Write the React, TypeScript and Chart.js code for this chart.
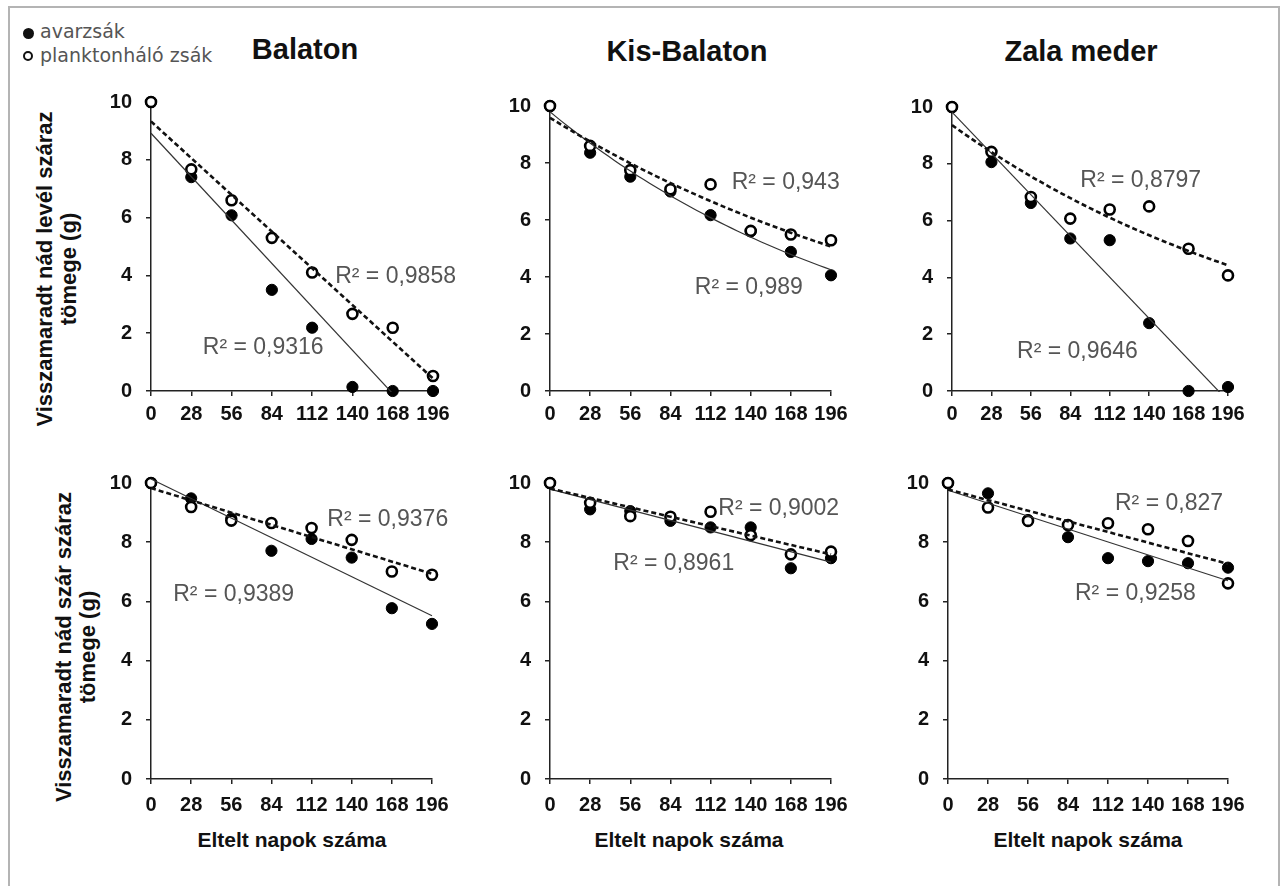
import { useEffect, useRef } from "react";
import { Chart, registerables } from "chart.js";

Chart.register(...registerables);

// Sampling days of the decomposition experiment
const DAYS = [0, 28, 56, 84, 112, 140, 168, 196];
const X_STEP = 28;
const Y_MIN = 0;
const Y_MAX = 10;
const Y_STEP = 2;

// Remaining dry mass of reed leaves (g)
const LEAF_BALATON_LITTER = [10, 7.4, 6.08, 3.5, 2.19, 0.14, 0, 0];
const LEAF_BALATON_PLANKTON = [10, 7.67, 6.6, 5.3, 4.1, 2.67, 2.19, 0.52];
const LEAF_KISBALATON_LITTER = [10, 8.36, 7.52, 7.0, 6.17, 5.6, 4.88, 4.06];
const LEAF_KISBALATON_PLANKTON = [10, 8.6, 7.75, 7.08, 7.25, 5.62, 5.49, 5.29];
const LEAF_ZALA_LITTER = [10, 8.06, 6.62, 5.37, 5.31, 2.39, 0, 0.14];
const LEAF_ZALA_PLANKTON = [10, 8.42, 6.83, 6.07, 6.39, 6.5, 5.01, 4.07];

// Remaining dry mass of reed stems (g)
const STEM_BALATON_LITTER = [10, 9.48, 8.8, 7.71, 8.11, 7.48, 5.77, 5.24];
const STEM_BALATON_PLANKTON = [10, 9.19, 8.73, 8.65, 8.48, 8.08, 7.01, 6.9];
const STEM_KISBALATON_LITTER = [10, 9.11, 9.05, 8.72, 8.5, 8.5, 7.12, 7.46];
const STEM_KISBALATON_PLANKTON = [10, 9.33, 8.88, 8.86, 9.03, 8.24, 7.59, 7.68];
const STEM_ZALA_LITTER = [10, 9.65, 8.75, 8.17, 7.46, 7.36, 7.29, 7.14];
const STEM_ZALA_PLANKTON = [10, 9.17, 8.72, 8.58, 8.64, 8.44, 8.04, 6.61];

// Coefficients of determination of the trend lines
const R2_LITTER = ["0,9316", "0,989", "0,9646", "0,9389", "0,8961", "0,9258"];
const R2_PLANKTON = ["0,9858", "0,943", "0,8797", "0,9376", "0,9002", "0,827"];

// Trend line type per panel: [litter bag, plankton-net bag]
const TREND_KINDS: [string, string][] = [
  ["linear", "linear"],
  ["exp", "exp"],
  ["linear", "exp"],
  ["linear", "linear"],
  ["linear", "linear"],
  ["linear", "linear"],
];

const SITE_TITLES = ["Balaton", "Kis-Balaton", "Zala meder"];
const Y_TITLES = [
  ["Visszamaradt nád levél száraz", "tömege (g)"],
  ["Visszamaradt nád szár száraz", "tömege (g)"],
];
const X_TITLE = "Eltelt napok száma";
const LEGEND_LABELS = ["avarzsák", "planktonháló zsák"];

const ARIAL = "'Liberation Sans', Arial, Helvetica, sans-serif";

// Layout of each panel: plot-area edges on the page, and where the R² texts sit (in data units)
const PANELS = [
  { litter: LEAF_BALATON_LITTER, plankton: LEAF_BALATON_PLANKTON, box: { L: 151, R: 433, T: 102, B: 391 }, tickPad: 6, litterPos: [36, 1.51], planktonPos: [128, 3.97] },
  { litter: LEAF_KISBALATON_LITTER, plankton: LEAF_KISBALATON_PLANKTON, box: { L: 550, R: 831, T: 106, B: 391 }, tickPad: 6, litterPos: [101, 3.64], planktonPos: [126.7, 7.3] },
  { litter: LEAF_ZALA_LITTER, plankton: LEAF_ZALA_PLANKTON, box: { L: 952, R: 1228, T: 107, B: 391 }, tickPad: 6, litterPos: [46.2, 1.37], planktonPos: [91.1, 7.42] },
  { litter: STEM_BALATON_LITTER, plankton: STEM_BALATON_PLANKTON, box: { L: 151, R: 432, T: 483, B: 779 }, tickPad: 9, litterPos: [15.5, 6.22], planktonPos: [123, 8.76] },
  { litter: STEM_KISBALATON_LITTER, plankton: STEM_KISBALATON_PLANKTON, box: { L: 550, R: 831, T: 483, B: 779 }, tickPad: 9, litterPos: [44.2, 7.29], planktonPos: [117.4, 9.15] },
  { litter: STEM_ZALA_LITTER, plankton: STEM_ZALA_PLANKTON, box: { L: 948, R: 1228, T: 483, B: 779 }, tickPad: 9, litterPos: [88.9, 6.27], planktonPos: [116.9, 9.31] },
];

const Y_AXIS_W = 70;
const X_AXIS_H = 48;
const PAD_T = 30;
const PAD_R = 44;

function mean(v: number[]) {
  return v.reduce((s, x) => s + x, 0) / v.length;
}

// Ordinary least squares y = a + b x
function fitLinear(xs: number[], ys: number[]) {
  const mx = mean(xs);
  const my = mean(ys);
  let sxy = 0;
  let sxx = 0;
  xs.forEach((x, i) => {
    sxy += (x - mx) * (ys[i] - my);
    sxx += (x - mx) * (x - mx);
  });
  const b = sxy / sxx;
  return { a: my - b * mx, b };
}

// Trend line points: linear, or exponential fitted on ln(y)
function trendPoints(kind: string, xs: number[], ys: number[]) {
  const x0 = xs[0];
  const x1 = xs[xs.length - 1];
  if (kind === "linear") {
    const { a, b } = fitLinear(xs, ys);
    return [
      { x: x0, y: a + b * x0 },
      { x: x1, y: a + b * x1 },
    ];
  }
  const { a, b } = fitLinear(xs, ys.map((v) => Math.log(v)));
  const pts: { x: number; y: number }[] = [];
  const n = 49;
  for (let i = 0; i < n; i++) {
    const x = x0 + ((x1 - x0) * i) / (n - 1);
    pts.push({ x, y: Math.exp(a + b * x) });
  }
  return pts;
}

const r2Plugin = {
  id: "r2labels",
  afterDatasetsDraw(chart: any, _args: any, opts: any) {
    const { ctx } = chart;
    const xs = chart.scales.x;
    const ys = chart.scales.y;
    ctx.save();
    ctx.font = `23px ${ARIAL}`;
    ctx.fillStyle = "#555";
    ctx.textAlign = "left";
    ctx.textBaseline = "middle";
    for (const l of opts.labels || []) {
      ctx.fillText(l.text, xs.getPixelForValue(l.x), ys.getPixelForValue(l.y));
    }
    ctx.restore();
  },
};

function Panel({ index }: { index: number }) {
  const ref = useRef<HTMLCanvasElement>(null);
  const p = PANELS[index];
  const { L, R, T, B } = p.box;
  const width = R - L + Y_AXIS_W + PAD_R;
  const height = B - T + PAD_T + X_AXIS_H;

  useEffect(() => {
    if (!ref.current) return;
    const [litterKind, planktonKind] = TREND_KINDS[index];
    const litterPts = DAYS.map((d, i) => ({ x: d, y: p.litter[i] }));
    const planktonPts = DAYS.map((d, i) => ({ x: d, y: p.plankton[i] }));
    const trendClip = { left: 2, right: 2, top: 8, bottom: 1 };
    const chart = new Chart(ref.current, {
      type: "scatter",
      data: {
        datasets: [
          {
            label: "planktonháló trend",
            data: trendPoints(planktonKind, DAYS, p.plankton),
            showLine: true,
            borderColor: "#111",
            borderWidth: 2.6,
            borderDash: [5, 3],
            pointRadius: 0,
            tension: 0,
            order: 0,
            clip: trendClip,
          },
          {
            label: "avar trend",
            data: trendPoints(litterKind, DAYS, p.litter),
            showLine: true,
            borderColor: "#333",
            borderWidth: 1.2,
            pointRadius: 0,
            tension: 0,
            order: 0,
            clip: trendClip,
          },
          {
            label: LEGEND_LABELS[1],
            data: planktonPts,
            pointRadius: 5,
            pointBackgroundColor: "#fff",
            pointBorderColor: "#000",
            pointBorderWidth: 2.6,
            order: 1,
            clip: false,
          },
          {
            label: LEGEND_LABELS[0],
            data: litterPts,
            pointRadius: 5.6,
            pointBackgroundColor: "#000",
            pointBorderColor: "#000",
            pointBorderWidth: 1,
            order: 2,
            clip: false,
          },
        ] as any,
      },
      options: {
        animation: false,
        responsive: false,
        events: [],
        layout: { padding: { left: 0, top: PAD_T, right: PAD_R, bottom: 0 } },
        plugins: {
          legend: { display: false },
          tooltip: { enabled: false },
          r2labels: {
            labels: [
              { text: `R² = ${R2_PLANKTON[index]}`, x: p.planktonPos[0], y: p.planktonPos[1] },
              { text: `R² = ${R2_LITTER[index]}`, x: p.litterPos[0], y: p.litterPos[1] },
            ],
          },
        } as any,
        scales: {
          x: {
            type: "linear",
            min: DAYS[0],
            max: DAYS[DAYS.length - 1],
            afterFit: (s: any) => {
              s.height = X_AXIS_H;
            },
            ticks: {
              stepSize: X_STEP,
              color: "#111",
              padding: p.tickPad,
              maxRotation: 0,
              autoSkip: false,
              font: { family: ARIAL, size: 20, weight: "bold" },
            },
            grid: { drawOnChartArea: false, drawTicks: true, tickLength: 5, color: "#222", lineWidth: 1.5 },
            border: { display: true, color: "#222", width: 1.5 },
          },
          y: {
            type: "linear",
            min: Y_MIN,
            max: Y_MAX,
            afterFit: (s: any) => {
              s.width = Y_AXIS_W;
            },
            ticks: {
              stepSize: Y_STEP,
              color: "#111",
              padding: 14,
              font: { family: ARIAL, size: 20, weight: "bold" },
            },
            grid: { drawOnChartArea: false, drawTicks: true, tickLength: 5, color: "#222", lineWidth: 1.5 },
            border: { display: true, color: "#222", width: 1.5 },
          },
        },
      } as any,
      plugins: [r2Plugin],
    });
    return () => chart.destroy();
  }, [index]);

  return (
    <canvas
      ref={ref}
      width={width}
      height={height}
      style={{ position: "absolute", left: L - Y_AXIS_W, top: T - PAD_T, width, height }}
    />
  );
}

const TITLE_POS = [
  { cx: 305, top: 33 },
  { cx: 687, top: 35 },
  { cx: 1081, top: 35 },
];
const X_TITLE_CX = [292, 689, 1088];
const Y_TITLE_POS = [
  { cx: 57, cy: 269 },
  { cx: 76, cy: 647 },
];

export default function App() {
  return (
    <div
      style={{
        position: "fixed",
        left: 0,
        top: 0,
        width: 1281,
        height: 886,
        background: "#fff",
        overflow: "hidden",
        fontFamily: ARIAL,
      }}
    >
      <div
        style={{
          position: "absolute",
          left: 8,
          top: 6,
          width: 1272,
          height: 920,
          border: "2px solid #b4b4b4",
          boxSizing: "border-box",
        }}
      />

      {/* legend */}
      <div style={{ position: "absolute", left: 22.5, top: 27.5, width: 11, height: 11, borderRadius: "50%", background: "#111" }} />
      <div style={{ position: "absolute", left: 40, top: 20, font: "19px 'DejaVu Sans', sans-serif", lineHeight: "22px", color: "#555", whiteSpace: "nowrap" }}>
        {LEGEND_LABELS[0]}
      </div>
      <div style={{ position: "absolute", left: 23, top: 51, width: 10, height: 10, borderRadius: "50%", border: "2px solid #111", boxSizing: "border-box", background: "#fff" }} />
      <div style={{ position: "absolute", left: 40, top: 44, font: "19px 'DejaVu Sans', sans-serif", lineHeight: "22px", color: "#555", whiteSpace: "nowrap" }}>
        {LEGEND_LABELS[1]}
      </div>

      {/* site titles */}
      {SITE_TITLES.map((t, i) => (
        <div
          key={t}
          style={{
            position: "absolute",
            left: TITLE_POS[i].cx - 200,
            top: TITLE_POS[i].top,
            width: 400,
            textAlign: "center",
            font: `bold 29px ${ARIAL}`,
            lineHeight: "33px",
            color: "#111",
          }}
        >
          {t}
        </div>
      ))}

      {/* y axis titles */}
      {Y_TITLES.map((lines, i) => (
        <div
          key={i}
          style={{
            position: "absolute",
            left: Y_TITLE_POS[i].cx - 200,
            top: Y_TITLE_POS[i].cy - 24,
            width: 400,
            height: 48,
            textAlign: "center",
            font: `bold 22px ${ARIAL}`,
            lineHeight: "24px",
            color: "#111",
            transform: "rotate(-90deg)",
            transformOrigin: "50% 50%",
            whiteSpace: "nowrap",
          }}
        >
          {lines[0]}
          <br />
          {lines[1]}
        </div>
      ))}

      {/* x axis titles */}
      {X_TITLE_CX.map((cx, i) => (
        <div
          key={i}
          style={{
            position: "absolute",
            left: cx - 150,
            top: 828,
            width: 300,
            textAlign: "center",
            font: `bold 21px ${ARIAL}`,
            lineHeight: "24px",
            color: "#111",
            whiteSpace: "nowrap",
          }}
        >
          {X_TITLE}
        </div>
      ))}

      {PANELS.map((_, i) => (
        <Panel key={i} index={i} />
      ))}
    </div>
  );
}
